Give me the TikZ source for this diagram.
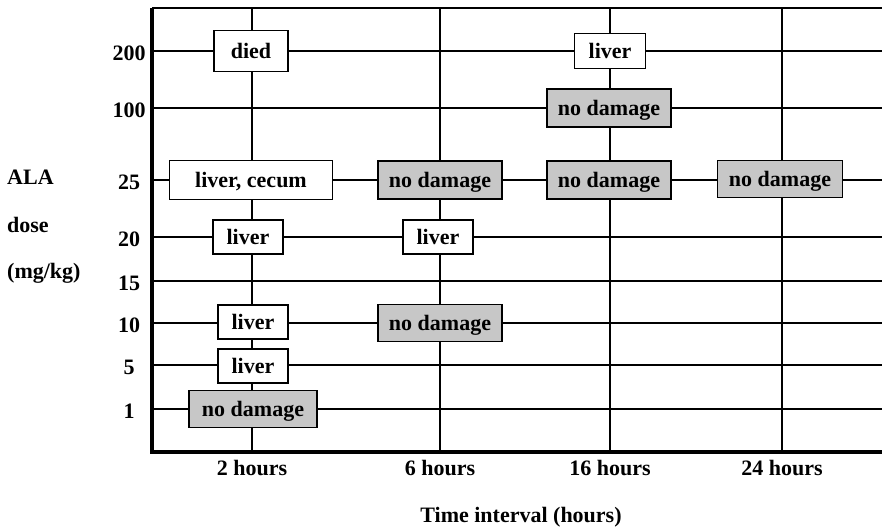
\documentclass[tikz,border=0pt]{standalone}
\usepackage{fontspec}
\setmainfont{Liberation Serif}
\begin{document}
\begin{tikzpicture}[x=1pt,y=-1pt,
  grid/.style={line width=1.6pt},
  axis/.style={line width=4pt},
  lbl/.style={font=\fontsize{22}{26}\selectfont\bfseries, inner sep=0pt},
  wbox/.style={draw, line width=1.6pt, fill=white, font=\fontsize{22}{26}\selectfont\bfseries, inner sep=0pt, text depth=0pt, text height=15pt},
  gbox/.style={wbox, fill=black!22}]
\useasboundingbox (0,0) rectangle (882,529);
% axes anchors
\coordinate (tl) at (152,8);
\coordinate (tr) at (882,8);
\coordinate (bl) at (152,452);
\coordinate (br) at (882,452);
% horizontal grid
\foreach \yy/\t in {51/200,108/100,180/25,237/20,281/15,323/10,365/5,409/1}{
  \draw[grid] (152,\yy) -- (882,\yy);
  \node[lbl] at (129,\yy+2) {\t};
}
\draw[grid] (tl) -- (tr);
% vertical grid
\foreach \xx/\t in {252/2,440/6,610/16,782/24}{
  \draw[grid] (\xx,8) -- (\xx,452);
  \node[lbl] at (\xx,468) {\t\ hours};
}
% axes
\draw[axis] (tl) -- (bl) -- (br);
% y axis title
\node[lbl, anchor=west] at (7,177) {ALA};
\node[lbl, anchor=west] at (7,225) {dose};
\node[lbl, anchor=west] at (7,273) {(mg/kg)};
\node[lbl] at (521,517) {Time interval (hours)};
% boxes
\node[wbox, minimum width=74pt, minimum height=41pt] (d200) at (251,51) {died};
\node[wbox, minimum width=71pt, minimum height=35pt] (l200) at (610,51) {liver};
\node[gbox, minimum width=124pt, minimum height=38pt] (n100) at (609,108) {no damage};
\node[wbox, minimum width=163pt, minimum height=39pt] (lc25) at (251,180) {liver, cecum};
\node[gbox, minimum width=124pt, minimum height=38pt] (n25a) at (440,180) {no damage};
\node[gbox, minimum width=124pt, minimum height=38pt] (n25b) at (609,180) {no damage};
\node[gbox, minimum width=125pt, minimum height=37pt] (n25c) at (780,179) {no damage};
\node[wbox, minimum width=70pt, minimum height=34pt] (l20a) at (248,237) {liver};
\node[wbox, minimum width=70pt, minimum height=34pt] (l20b) at (438,237) {liver};
\node[wbox, minimum width=70pt, minimum height=34pt] (l10) at (253,322) {liver};
\node[gbox, minimum width=124pt, minimum height=37pt] (n10) at (440,323) {no damage};
\node[wbox, minimum width=70pt, minimum height=34pt] (l5) at (253,366) {liver};
\node[gbox, minimum width=128pt, minimum height=37pt] (n1) at (253,409) {no damage};
\end{tikzpicture}
\end{document}
